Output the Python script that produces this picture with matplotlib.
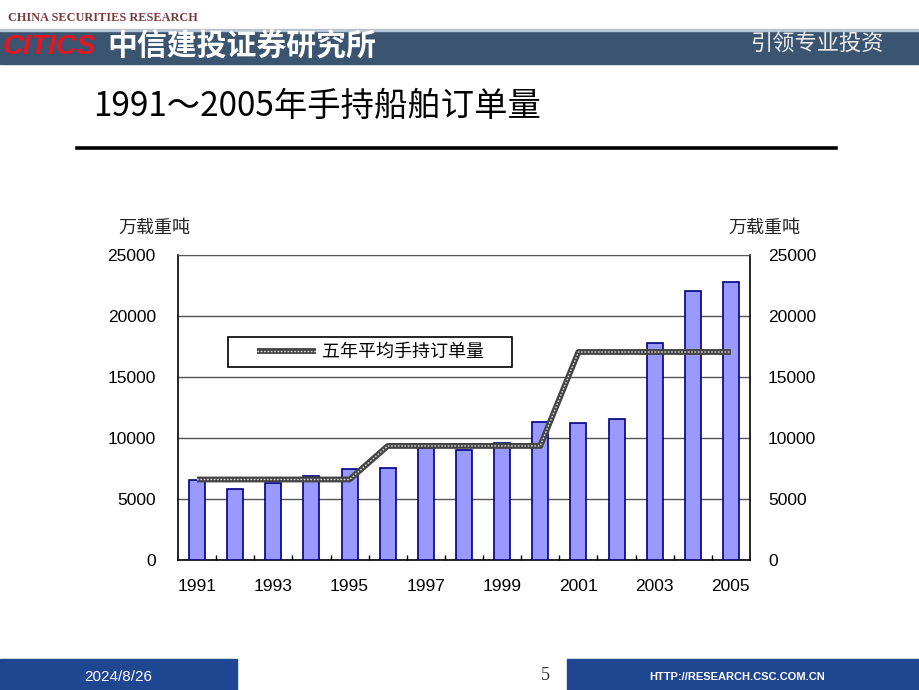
import matplotlib.pyplot as plt
import numpy as np
from matplotlib.lines import Line2D
from matplotlib.patches import Rectangle

plt.rcParams['font.family'] = ['Liberation Sans', 'Noto Sans CJK SC', 'DejaVu Sans']

years = [1991, 1992, 1993, 1994, 1995, 1996, 1997, 1998, 1999,
         2000, 2001, 2002, 2003, 2004, 2005]
orders = [6550, 5850, 6300, 6900, 7450, 7550, 9200, 9050, 9600,
          11350, 11200, 11550, 17750, 22050, 22750]
# five-year average of the hand-held orders
avg5 = [6600, 6600, 6600, 6600, 6600, 9350, 9350, 9350, 9350,
        9350, 17050, 17050, 17050, 17050, 17050]
yticks = [0, 5000, 10000, 15000, 20000, 25000]
unit = '万载重吨'
legend_label = '五年平均手持订单量'
title = '1991～2005年手持船舶订单量'

W, H = 920, 690
fig = plt.figure(figsize=(W / 100, H / 100), dpi=100)


def fx(x):
    return x / W


def fy(y):
    return 1 - y / H


cjk = ['Noto Sans CJK SC', 'DejaVu Sans']

# ---- header ----
fig.patches.append(Rectangle((0, fy(64)), 1, fy(30) - fy(64), transform=fig.transFigure,
                             color='#3b5470', zorder=0))
fig.patches.append(Rectangle((0, fy(31)), 1, fy(29) - fy(31), transform=fig.transFigure,
                             color='#b8c4d0', zorder=0))
fig.text(fx(8), fy(18), 'CHINA SECURITIES RESEARCH', family='Liberation Serif',
         weight='bold', size=8.8, color='#7b3b3b', va='center')
fig.text(fx(3), fy(47), 'CITICS', family='Liberation Sans', weight='bold', style='italic',
         size=20.5, color='#e5141e', va='center')
fig.text(fx(107), fy(47), '中信建投证券研究所', family=cjk, weight='bold', size=21.5,
         color='white', va='center')
fig.text(fx(884), fy(43), '引领专业投资', family=cjk, size=16, color='#ececec',
         va='center', ha='right')

# ---- title ----
fig.text(fx(93), fy(106), title, family=cjk, size=24, va='center', color='black')
fig.add_artist(Line2D([fx(77), fx(836)], [fy(148), fy(148)], color='black', lw=2.6,
                      transform=fig.transFigure))

# ---- footer ----
fig.patches.append(Rectangle((0, 0), fx(237), fy(659), transform=fig.transFigure,
                             color='#1f4690', zorder=0))
fig.patches.append(Rectangle((fx(567), 0), 1 - fx(567), fy(659), transform=fig.transFigure,
                             color='#1f4690', zorder=0))
fig.text(fx(118), fy(677), '2024/8/26', size=11, color='white', ha='center', va='center')
fig.text(fx(545), fy(676), '5', family='Liberation Serif', size=13, color='#333333',
         ha='center', va='center')
fig.text(fx(737), fy(677), 'HTTP://RESEARCH.CSC.COM.CN', weight='bold', size=8,
         color='white', ha='center', va='center')

# ---- chart ----
ax = fig.add_axes([fx(178), fy(560), fx(750) - fx(178), fy(255) - fy(560)])
x = np.arange(len(years))

ax.bar(x, orders, width=0.42, color='#9999ff', edgecolor='#000080', linewidth=1.2, zorder=3)
l1, = ax.plot(x, avg5, color='#444444', lw=4.2, zorder=4, solid_capstyle='butt')
l2, = ax.plot(x, avg5, color='#dddddd', lw=1.0, ls=(0, (1.2, 1.2)), zorder=5)

ax.set_xlim(-0.5, len(years) - 0.5)
ax.set_ylim(0, 25000)
ax.set_yticks(yticks)
ax.set_yticklabels([str(v) for v in yticks], size=12.5)
ax.tick_params(axis='y', length=0, pad=16)

ax.set_xticks(x[::2])
ax.set_xticklabels([str(y) for y in years[::2]], size=12.5)
ax.set_xticks(x[:-1] + 0.5, minor=True)
ax.tick_params(axis='x', which='major', length=0, pad=14)
ax.tick_params(axis='x', which='minor', direction='in', length=3.6, width=1)

ax.yaxis.grid(True, color='#555555', lw=1)
ax.set_axisbelow(True)
ax.spines['top'].set_color('#555555')
for s in ['left', 'right', 'bottom']:
    ax.spines[s].set_color('black')
    ax.spines[s].set_linewidth(1.2)

ax2 = ax.twinx()
ax2.set_ylim(0, 25000)
ax2.set_yticks(yticks)
ax2.set_yticklabels([str(v) for v in yticks], size=12.5)
ax2.tick_params(axis='y', length=0, pad=13)
for s in ax2.spines.values():
    s.set_visible(False)

# units
fig.text(fx(118), fy(228), unit, family=cjk, size=13, va='center', color='#222222')
fig.text(fx(728), fy(228), unit, family=cjk, size=13, va='center', color='#222222')

# legend
x0 = (228 - 178) / 572
x1 = (512 - 178) / 572
y0 = (560 - 367) / 305
y1 = (560 - 337) / 305
ax.add_patch(Rectangle((x0, y0), x1 - x0, y1 - y0, transform=ax.transAxes, fill=True,
                       facecolor='white', edgecolor='black', lw=1.2, zorder=6))
leg = ax.legend([(l1, l2)], [legend_label], loc='center left',
                bbox_to_anchor=(x0 + 0.05, (y0 + y1) / 2), frameon=False,
                handlelength=3.3, handletextpad=0.3, borderpad=0, borderaxespad=0,
                prop={'family': cjk, 'size': 13})
leg.set_zorder(7)

fig.savefig('out.png', dpi=100)
